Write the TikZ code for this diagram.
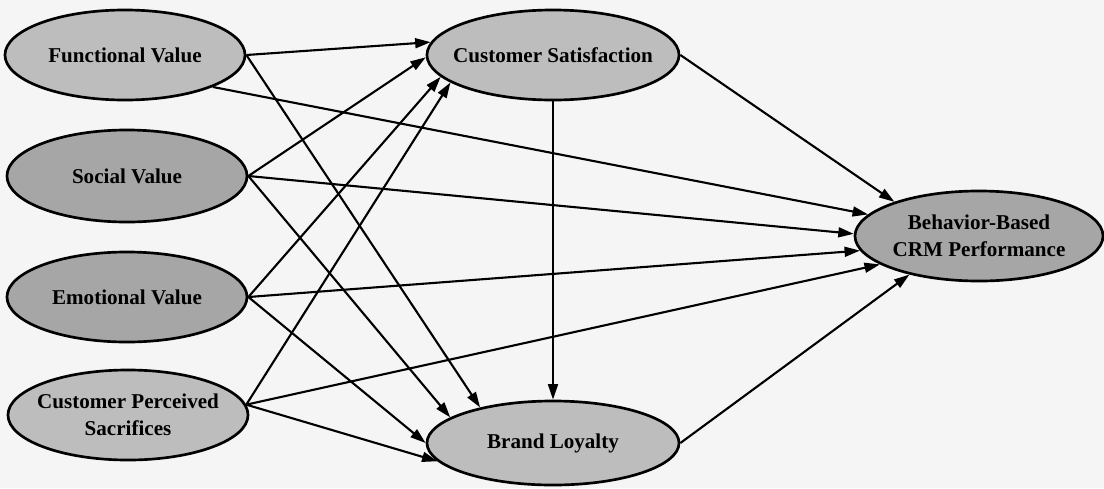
\documentclass[tikz,border=0pt]{standalone}
\usepackage{fontspec}
\setmainfont{Liberation Serif}
\usetikzlibrary{shapes.geometric,arrows.meta}

\tikzset{
  construct/.style={ellipse, draw, line width=1.9pt, fill=gray!52, inner sep=-30pt,
    font=\fontsize{15}{19}\selectfont\bfseries, align=center},
  darker/.style={fill=gray!70},
  effect/.style={-{Triangle[length=11pt,width=7pt]}, line width=1.5pt}
}

\begin{document}
\begin{tikzpicture}[x=0.025cm, y=-0.025cm]
  \useasboundingbox (0,0) rectangle (1104,488);
  \fill[black!4] (0,0) rectangle (1104,488);

  % antecedents
  \node[construct, minimum width=6cm, minimum height=2.25cm] (fv) at (125,55) {Functional Value};
  \node[construct, darker, minimum width=6cm, minimum height=2.3cm] (sv) at (127,176) {Social Value};
  \node[construct, darker, minimum width=6cm, minimum height=2.25cm] (ev) at (127,297) {Emotional Value};
  \node[construct, minimum width=6cm, minimum height=2.25cm] (cps) at (128,415) {Customer Perceived\\Sacrifices};

  % outcomes
  \node[construct, minimum width=6.3cm, minimum height=2.25cm] (cs) at (553,55) {Customer Satisfaction};
  \node[construct, darker, minimum width=6.2cm, minimum height=2.25cm] (bb) at (979,236) {Behavior-Based\\CRM Performance};
  \node[construct, minimum width=6.3cm, minimum height=2.1cm] (bl) at (553,443) {Brand Loyalty};

  \foreach \a/\b in {fv.east/cs.174, fv.east/bl.154, fv.-20/bb.169,
                     sv.east/cs.181, sv.east/bb.179, sv.east/bl.166,
                     ev.east/cs.191, ev.east/bb.187, ev.east/bl.180,
                     cps.5/cs.195, cps.5/bb.196, cps.5/bl.189,
                     cs.east/bb.158, cs.south/bl.north, bl.east/bb.209}{
    \draw[effect] (\a) -- (\b);
  }
\end{tikzpicture}
\end{document}
